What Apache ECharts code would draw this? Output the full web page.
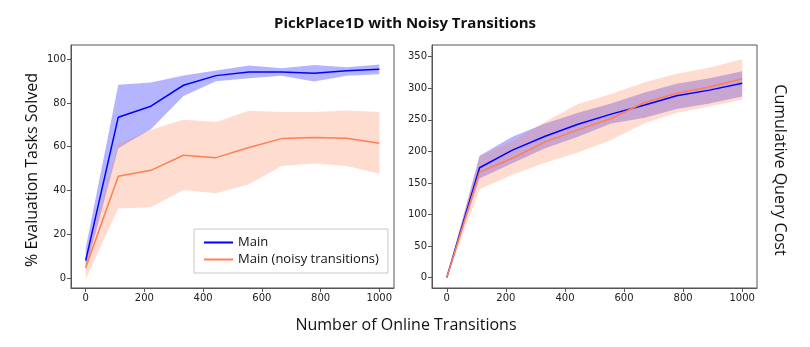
<!DOCTYPE html>
<html>
<head>
<meta charset="utf-8">
<script src="https://cdn.jsdelivr.net/npm/echarts@6/dist/echarts.min.js"></script>
<style>
  html, body { margin: 0; padding: 0; background: #fff; }
  #chart { width: 810px; height: 347px; }
</style>
</head>
<body>
<div id="chart"></div>
<script>
// x 轴：在线转移数
const steps = [0, 111, 222, 333, 444, 556, 667, 778, 889, 1000];

// 左图：评估任务成功率 (%)
const solvedMain = [7.9, 73.5, 78.5, 88.1, 92.5, 94.2, 94.2, 93.6, 94.7, 95.4];
const solvedMainLo = [3.7, 59.3, 68.0, 83.2, 89.9, 91.3, 92.4, 89.8, 92.4, 93.1];
const solvedMainHi = [13.6, 88.3, 89.3, 92.5, 94.8, 97.1, 95.9, 97.4, 96.3, 97.6];
const solvedNoisy = [4.7, 46.5, 49.2, 56.1, 55.0, 59.6, 63.7, 64.2, 63.9, 61.6];
const solvedNoisyLo = [-0.6, 31.7, 32.3, 40.2, 38.7, 42.8, 51.2, 52.3, 51.2, 47.6];
const solvedNoisyHi = [9.8, 61.3, 67.7, 72.3, 71.3, 76.4, 75.9, 75.9, 76.5, 75.9];

// 右图：累计查询成本
const costMain = [0, 174, 202, 224, 243, 259, 273, 288, 297, 308];
const costMainLo = [0, 157, 181, 205, 223, 244, 253, 267, 276, 287];
const costMainHi = [0, 193, 223, 244, 261, 276, 293, 307, 316, 327];
const costNoisy = [0, 167, 189, 215, 234, 252, 277, 292, 302, 315];
const costNoisyLo = [0, 140, 163, 182, 198, 218, 244, 261, 271, 282];
const costNoisyHi = [0, 192, 216, 247, 275, 291, 309, 323, 333, 346];

// 刻度
const xTicks = [0, 200, 400, 600, 800, 1000];
const solvedTicks = [0, 20, 40, 60, 80, 100];
const costTicks = [0, 50, 100, 150, 200, 250, 300, 350];

const BLUE = '#0000ff';
const CORAL = '#ff7f50';
const BLUE_BAND = 'rgba(0,0,255,0.29)';
const CORAL_BAND = 'rgba(255,127,80,0.27)';
const tickFont = 'DejaVu Sans';
const labelFont = '"Open Sans", "Noto Sans", sans-serif';

function pairs(ys) {
  return ys.map((y, i) => [steps[i], y]);
}

// 置信带：用 custom 系列画一个多边形（上界正向 + 下界反向）
function band(idx, name, lo, hi, color, z) {
  return {
    name: name,
    type: 'custom',
    xAxisIndex: idx,
    yAxisIndex: idx,
    data: steps.map((x, i) => [x, lo[i], hi[i]]),
    silent: true,
    z: z,
    renderItem: function (params, api) {
      if (params.dataIndex !== 0) return null;
      const upper = steps.map((x, i) => api.coord([x, hi[i]]));
      const lower = steps.map((x, i) => api.coord([x, lo[i]])).reverse();
      return {
        type: 'polygon',
        shape: { points: upper.concat(lower) },
        style: { fill: color, stroke: null }
      };
    }
  };
}

function meanLine(idx, name, ys, color) {
  return {
    name: name,
    type: 'line',
    xAxisIndex: idx,
    yAxisIndex: idx,
    data: pairs(ys),
    symbol: 'none',
    lineStyle: { color: color, width: 1.5 },
    itemStyle: { color: color },
    z: 3
  };
}

function xAxisCfg(idx) {
  return {
    type: 'value',
    gridIndex: idx,
    min: -50,
    max: 1050,
    splitLine: { show: false },
    axisLine: { show: true, onZero: false, lineStyle: { color: '#555' } },
    axisTick: { show: true, customValues: xTicks, length: 4, lineStyle: { color: '#555' } },
    axisLabel: {
      customValues: xTicks,
      formatter: v => String(v),
      fontFamily: tickFont, fontSize: 10, color: '#222', margin: 5
    }
  };
}

function yAxisCfg(idx, min, max, ticks) {
  return {
    type: 'value',
    gridIndex: idx,
    min: min,
    max: max,
    splitLine: { show: false },
    axisLine: { show: true, onZero: false, lineStyle: { color: '#555' } },
    axisTick: { show: true, customValues: ticks, length: 4, lineStyle: { color: '#555' } },
    axisLabel: {
      customValues: ticks,
      formatter: v => String(v),
      fontFamily: tickFont, fontSize: 10, color: '#222', margin: 5
    }
  };
}

const chart = echarts.init(document.getElementById('chart'), null, { renderer: 'canvas' });

const option = {
  animation: false,
  backgroundColor: '#fff',
  title: {
    text: 'PickPlace1D with Noisy Transitions',
    left: 'center',
    top: 11,
    textStyle: { fontFamily: labelFont, fontSize: 15, fontWeight: 'bold', color: '#111' }
  },
  legend: {
    data: ['Main', 'Main (noisy transitions)'],
    orient: 'vertical',
    left: 194,
    top: 229,
    padding: [7, 9, 7, 10],
    itemGap: 4,
    itemWidth: 29,
    itemHeight: 2,
    icon: 'rect',
    borderColor: '#c8c8c8',
    borderWidth: 1,
    backgroundColor: '#fff',
    selectedMode: false,
    textStyle: { fontFamily: labelFont, fontSize: 13, color: '#111', lineHeight: 13 }
  },
  grid: [
    { left: 71, top: 45, width: 323, height: 243, show: true, borderColor: '#555', borderWidth: 1 },
    { left: 432, top: 45, width: 325, height: 243, show: true, borderColor: '#555', borderWidth: 1 }
  ],
  xAxis: [xAxisCfg(0), xAxisCfg(1)],
  yAxis: [
    yAxisCfg(0, -4.6, 106.5, solvedTicks),
    yAxisCfg(1, -16.5, 368.5, costTicks)
  ],
  series: [
    band(0, 'solved-main-band', solvedMainLo, solvedMainHi, BLUE_BAND, 1),
    band(0, 'solved-noisy-band', solvedNoisyLo, solvedNoisyHi, CORAL_BAND, 2),
    meanLine(0, 'Main', solvedMain, BLUE),
    meanLine(0, 'Main (noisy transitions)', solvedNoisy, CORAL),
    band(1, 'cost-main-band', costMainLo, costMainHi, BLUE_BAND, 1),
    band(1, 'cost-noisy-band', costNoisyLo, costNoisyHi, CORAL_BAND, 2),
    meanLine(1, 'Main', costMain, BLUE),
    meanLine(1, 'Main (noisy transitions)', costNoisy, CORAL)
  ],
  graphic: [
    {
      type: 'text',
      x: 32,
      y: 170,
      rotation: Math.PI / 2,
      style: {
        text: '% Evaluation Tasks Solved',
        font: '16px "Open Sans", "Noto Sans", sans-serif',
        fill: '#111',
        align: 'center',
        verticalAlign: 'middle'
      }
    },
    {
      type: 'text',
      x: 780,
      y: 170,
      rotation: -Math.PI / 2,
      style: {
        text: 'Cumulative Query Cost',
        font: '16px "Open Sans", "Noto Sans", sans-serif',
        fill: '#111',
        align: 'center',
        verticalAlign: 'middle'
      }
    },
    {
      type: 'text',
      x: 406,
      y: 325,
      style: {
        text: 'Number of Online Transitions',
        font: '16px "Open Sans", "Noto Sans", sans-serif',
        fill: '#111',
        align: 'center',
        verticalAlign: 'middle'
      }
    }
  ]
};

chart.setOption(option);

window.addEventListener('resize', function () {
  chart.resize();
});
</script>
</body>
</html>
